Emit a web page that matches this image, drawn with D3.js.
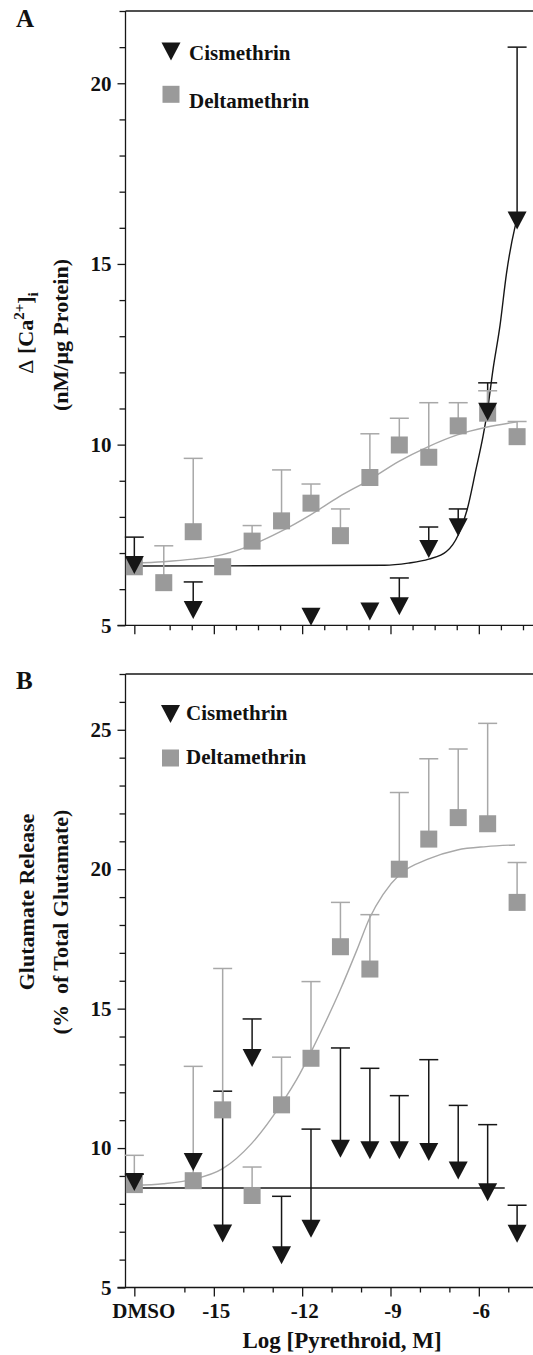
<!DOCTYPE html>
<html>
<head>
<meta charset="utf-8">
<script src="https://cdn.jsdelivr.net/npm/d3@7"></script>
<style>
  body { margin: 0; background: #fff; }
  svg text { font-family: "Liberation Serif", "Times New Roman", serif; font-weight: bold; fill: #111; }
</style>
</head>
<body>
<div id="chart"></div>
<script>
// log concentration positions (DMSO first)
const doses = [-17.7, -16.7, -15.7, -14.7, -13.7, -12.7, -11.7, -10.7, -9.7, -8.7, -7.7, -6.7, -5.7, -4.7];
const tickLabels = ["DMSO", "-15", "-12", "-9", "-6"];
const tickValues = [-17.7, -15, -12, -9, -6];

// Panel A : calcium
const caDelta    = [6.62, 6.18, 7.59, 6.62, 7.33, 7.89, 8.38, 7.48, 9.09, 9.99, 9.65, 10.52, 10.87, 10.22];
const caDeltaErr = [null, 7.2, 9.62, null, 7.76, 9.3, 8.91, 8.22, 10.3, 10.73, 11.16, 11.16, 11.49, 10.64];
const caCis      = [6.67, null, 5.42, null, null, null, 5.24, null, 5.38, 5.53, 7.11, 7.71, 10.91, 16.2];
const caCisErr   = [7.44, null, 6.2, null, null, null, null, null, null, 6.31, 7.72, 8.22, 11.71, 21.0];
const caDeltaFitX = [-17.7, -16.72, -15.71, -14.74, -13.72, -12.74, -11.73, -10.74, -9.73, -8.73, -7.73, -6.73, -5.75, -4.7];
const caDeltaFitY = [6.72, 6.76, 6.83, 6.95, 7.22, 7.59, 8.05, 8.56, 9.02, 9.53, 9.94, 10.27, 10.48, 10.63];
const caCisFitX = [-17.7, -9.2, -8.4, -7.7, -7.1, -6.7, -6.4, -6.1, -5.86, -5.72, -5.52, -5.28, -5.06, -4.78, -4.7];
const caCisFitY = [6.64, 6.66, 6.72, 6.83, 7.04, 7.5, 8.19, 9.3, 10.22, 10.87, 12.07, 13.3, 14.74, 15.99, 16.25];

// Panel B : glutamate
const gluDelta    = [8.69, null, 8.83, 11.37, 8.3, 11.55, 13.22, 17.22, 16.42, 20.0, 21.08, 21.85, 21.63, 18.81];
const gluDeltaErr = [9.74, null, 12.93, 16.44, 9.32, 13.26, 15.97, 18.81, 18.37, 22.75, 23.96, 24.31, 25.23, 20.24];
const gluCis      = [8.78, null, 9.5, 6.94, 13.23, 6.16, 7.11, 9.98, 9.92, 9.92, 9.86, 9.2, 8.42, 6.93];
const gluCisErr   = [9.06, null, null, 12.04, 14.63, 8.27, 10.68, 13.59, 12.86, 11.88, 13.17, 11.53, 10.84, 7.95];
const gluDeltaFitX = [-17.7, -16.72, -15.74, -14.7, -13.72, -12.74, -12.08, -11.73, -11.4, -10.72, -10.15, -9.7, -9.25, -8.68, -7.73, -6.73, -5.75, -4.77];
const gluDeltaFitY = [8.66, 8.72, 8.87, 9.26, 10.16, 11.53, 12.66, 13.38, 14.09, 15.64, 17.08, 18.27, 19.1, 19.82, 20.36, 20.69, 20.81, 20.87];
const gluCisFitX = [-17.7, -5.12];
const gluCisFitY = [8.57, 8.57];

const GRAY = "#9a9a9a";
const GRAY_LINE = "#a8a8a8";
const BLACK = "#161616";

const svg = d3.select("#chart").append("svg")
    .attr("width", 533)
    .attr("height", 1355);

const x = d3.scaleLinear().domain([-18, -4.16]).range([125.5, 533]);

const triPath = "M-9.5,-9L9.5,-9L0,9Z";

function drawPanel(p) {
    const y = d3.scaleLinear().domain(p.yDomain).range(p.yRange);
    const g = svg.append("g");

    // panel letter
    g.append("text").attr("x", 16).attr("y", p.letterY)
        .style("font-size", "25px").text(p.letter);

    // top frame line
    g.append("line")
        .attr("x1", x.range()[0]).attr("x2", 533)
        .attr("y1", p.yRange[1]).attr("y2", p.yRange[1])
        .attr("stroke", BLACK).attr("stroke-width", 1.3);

    // y axis
    const yTicksMajor = d3.range(p.yDomain[0], p.yDomain[1] + 0.01, 5);
    const yAxis = g.append("g").attr("transform", `translate(${x.range()[0]},0)`)
        .call(d3.axisLeft(y).tickValues(yTicksMajor).tickSize(8).tickPadding(6).tickFormat(d3.format("d")));
    g.append("g").attr("transform", `translate(${x.range()[0]},0)`)
        .call(d3.axisLeft(y).tickValues(d3.range(p.yDomain[0], p.yDomain[1] + 0.01, 1).filter(v => v % 5 !== 0))
            .tickSize(6).tickFormat(""))
        .select(".domain").remove();
    yAxis.select(".domain").attr("d", `M0,${p.yRange[0]}V${p.yRange[1]}`);

    // x axis
    const xAxis = g.append("g").attr("transform", `translate(0,${p.yRange[0]})`)
        .call(d3.axisBottom(x).tickValues(tickValues).tickSize(9).tickPadding(6)
            .tickFormat((d, i) => p.showLabels ? tickLabels[i] : ""));
    xAxis.select(".domain").attr("d", `M${x.range()[0] - 8},0H533`);
    g.append("g").attr("transform", `translate(0,${p.yRange[0]})`)
        .call(d3.axisBottom(x).tickValues(p.minorX).tickSize(5).tickFormat(""))
        .select(".domain").remove();

    svg.selectAll(".tick line, .domain").attr("stroke", BLACK).attr("stroke-width", 1.3);
    g.selectAll(".tick text")
        .style("font-family", '"Liberation Serif", "Times New Roman", serif')
        .style("font-weight", "bold")
        .style("font-size", "21px")
        .attr("fill", "#111");
    xAxis.selectAll(".tick text").attr("dy", "0.74em")
        .attr("dx", (d, i) => i === 0 ? 9 : 2);

    // y axis title (two lines)
    p.title(g);

    // fitted curves
    const line = d3.line().x(d => x(d[0])).y(d => y(d[1])).curve(d3.curveMonotoneX);
    g.append("path").datum(d3.zip(p.cisFitX, p.cisFitY))
        .attr("d", line).attr("fill", "none").attr("stroke", BLACK).attr("stroke-width", 1.4);
    g.append("path").datum(d3.zip(p.deltaFitX, p.deltaFitY))
        .attr("d", line).attr("fill", "none").attr("stroke", GRAY_LINE).attr("stroke-width", 1.4);

    // error bars (upper only)
    function errorBars(means, errs, color) {
        const data = doses.map((d, i) => ({ x: d, m: means[i], e: errs[i] }))
            .filter(d => d.m !== null && d.e !== null);
        const eg = g.append("g").attr("stroke", color).attr("stroke-width", 1.5);
        eg.selectAll(".stem").data(data).enter().append("line")
            .attr("x1", d => x(d.x)).attr("x2", d => x(d.x))
            .attr("y1", d => y(d.m)).attr("y2", d => y(d.e));
        eg.selectAll(".cap").data(data).enter().append("line")
            .attr("x1", d => x(d.x) - 9.5).attr("x2", d => x(d.x) + 9.5)
            .attr("y1", d => y(d.e)).attr("y2", d => y(d.e));
    }
    errorBars(p.cis, p.cisErr, BLACK);
    errorBars(p.delta, p.deltaErr, GRAY_LINE);

    // squares
    g.selectAll(".sq").data(doses.map((d, i) => [d, p.delta[i]]).filter(d => d[1] !== null))
        .enter().append("rect")
        .attr("x", d => x(d[0]) - 8.5).attr("y", d => y(d[1]) - 8.5)
        .attr("width", 17).attr("height", 17)
        .attr("fill", GRAY);

    // triangles
    g.selectAll(".tri").data(doses.map((d, i) => [d, p.cis[i]]).filter(d => d[1] !== null))
        .enter().append("path")
        .attr("d", triPath)
        .attr("transform", d => `translate(${x(d[0])},${y(d[1])})`)
        .attr("fill", BLACK);

    // legend
    const lg = g.append("g");
    lg.append("path").attr("d", triPath)
        .attr("transform", `translate(${p.legend.triX},${p.legend.triY})`).attr("fill", BLACK);
    lg.append("text").attr("x", p.legend.textX).attr("y", p.legend.text1Y)
        .style("font-size", "21px").text("Cismethrin");
    lg.append("rect").attr("x", p.legend.triX - 8.5).attr("y", p.legend.sqY - 8.5)
        .attr("width", 17).attr("height", 17).attr("fill", GRAY);
    lg.append("text").attr("x", p.legend.textX).attr("y", p.legend.text2Y)
        .style("font-size", "21px").text("Deltamethrin");
}

// Panel A
drawPanel({
    letter: "A", letterY: 27,
    yDomain: [5, 22], yRange: [625.3, 11],
    showLabels: false,
    minorX: [-16.5, -15.75, -14.25, -13.5, -12.75, -11.25, -10.5, -9.75, -8.25, -7.5, -6.75, -5.25, -4.5],
    delta: caDelta, deltaErr: caDeltaErr, cis: caCis, cisErr: caCisErr,
    deltaFitX: caDeltaFitX, deltaFitY: caDeltaFitY, cisFitX: caCisFitX, cisFitY: caCisFitY,
    legend: { triX: 171, triY: 51.5, textX: 189, text1Y: 60, sqY: 94.3, text2Y: 107.5 },
    title: g => {
        const t1 = g.append("text").attr("transform", "translate(33,333) rotate(-90)")
            .attr("text-anchor", "middle").style("font-size", "22px");
        t1.append("tspan").style("font-weight", "normal").text("Δ");
        t1.append("tspan").text(" [Ca");
        t1.append("tspan").attr("dy", -9).style("font-size", "15px").text("2+");
        t1.append("tspan").attr("dy", 9).text("]");
        t1.append("tspan").attr("dy", 5).style("font-size", "15px").text("i");
        g.append("text").attr("transform", "translate(68,335) rotate(-90)")
            .attr("text-anchor", "middle").style("font-size", "22px").text("(nM/μg Protein)");
    }
});

// Panel B
drawPanel({
    letter: "B", letterY: 689,
    yDomain: [5, 27], yRange: [1287.5, 674],
    showLabels: true,
    minorX: [-16, -14, -13, -11, -10, -8, -7, -5],
    delta: gluDelta, deltaErr: gluDeltaErr, cis: gluCis, cisErr: gluCisErr,
    deltaFitX: gluDeltaFitX, deltaFitY: gluDeltaFitY, cisFitX: gluCisFitX, cisFitY: gluCisFitY,
    legend: { triX: 170.5, triY: 714, textX: 186, text1Y: 720, sqY: 758, text2Y: 764 },
    title: g => {
        g.append("text").attr("transform", "translate(34,902) rotate(-90)")
            .attr("text-anchor", "middle").style("font-size", "22px").text("Glutamate Release");
        g.append("text").attr("transform", "translate(68,922) rotate(-90)")
            .attr("text-anchor", "middle").style("font-size", "22px")
            .attr("xml:space", "preserve").text("(%  of Total Glutamate)");
    }
});

// x axis title
svg.append("text")
    .attr("x", 342).attr("y", 1348)
    .attr("text-anchor", "middle")
    .style("font-size", "23px")
    .text("Log [Pyrethroid, M]");
</script>
</body>
</html>
